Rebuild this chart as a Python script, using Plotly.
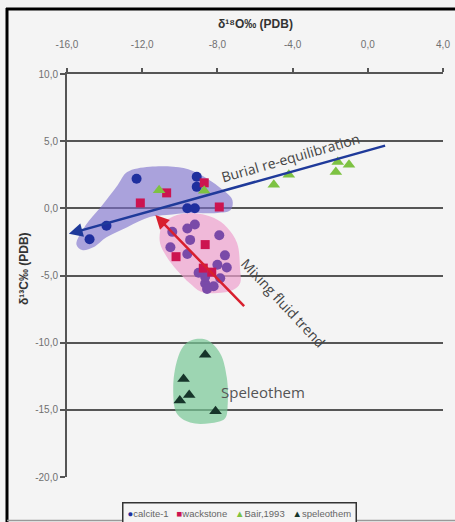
import plotly.graph_objects as go

# ---------------- data ----------------
calcite_x = [-12.3, -9.1, -9.1, -9.6, -9.2, -13.9, -14.8]
calcite_y = [2.2, 2.35, 1.6, 0.0, 0.0, -1.3, -2.3]

calcite_mix_x = [-10.4, -9.6, -9.2, -7.9, -10.5, -9.6, -9.45, -7.6, -8.0, -7.5, -8.65, -8.2, -7.85, -8.65, -8.55, -9.0]
calcite_mix_y = [-1.75, -1.5, -1.2, -2.0, -2.9, -3.4, -2.35, -3.5, -4.2, -4.4, -5.6, -5.8, -5.2, -5.1, -6.0, -4.8]

wack_x = [-12.1, -10.7, -8.7, -7.9, -8.65, -10.2, -8.75, -8.3]
wack_y = [0.4, 1.15, 1.9, 0.1, -2.7, -3.6, -4.45, -4.75]

bair_x = [-11.1, -8.7, -5.0, -4.2, -1.7, -1.6, -1.0]
bair_y = [1.35, 1.3, 1.75, 2.5, 2.7, 3.45, 3.25]

spel_x = [-8.65, -9.8, -10.0, -9.5, -8.1]
spel_y = [-10.9, -12.7, -14.3, -13.9, -15.1]

# outlines of the shaded fields
burial_field_x = [-15.5, -15.0, -14.2, -13.3, -12.8, -11.6, -9.8, -8.9, -7.7, -7.2, -7.3, -8.0, -9.45, -10.7, -11.6, -12.8, -13.9, -14.6, -15.2, -15.5]
burial_field_y = [-2.7, -1.24, 0.1, 1.74, 2.7, 3.1, 3.0, 2.5, 1.36, 0.6, -0.13, -0.35, -0.35, -0.5, -0.65, -1.4, -2.15, -2.9, -3.1, -2.7]
mix_field_x = [-11.05, -10.9, -10.15, -9.3, -8.2, -7.5, -6.95, -6.8, -6.8, -7.2, -8.0, -8.9, -9.45, -10.15, -10.7, -11.05, -11.05]
mix_field_y = [-1.75, -1.1, -0.5, -0.35, -0.7, -1.4, -2.6, -4.4, -5.6, -6.1, -6.3, -6.2, -5.6, -4.6, -3.6, -2.6, -1.75]
spel_field_x = [-9.35, -8.55, -7.85, -7.5, -7.45, -7.6, -8.4, -9.45, -10.15, -10.35, -10.15, -9.8, -9.35]
spel_field_y = [-9.8, -9.8, -10.8, -12.6, -14.55, -15.65, -16.0, -15.95, -15.3, -13.35, -11.35, -10.25, -9.8]

# trend arrows: [head, tail]
burial_trend_x = [-15.9, 1.0]
burial_trend_y = [-1.9, 4.7]
mixing_trend_x = [-11.3, -6.5]
mixing_trend_y = [-0.5, -7.4]

x_ticks = [-16, -12, -8, -4, 0, 4]
x_tick_labels = ["-16,0", "-12,0", "-8,0", "-4,0", "0,0", "4,0"]
y_ticks = [10, 5, 0, -5, -10, -15, -20]
y_tick_labels = ["10,0", "5,0", "0,0", "-5,0", "-10,0", "-15,0", "-20,0"]

series_names = ["calcite-1", "wackstone", "Bair,1993", "speleothem"]
series_colors = ["#1f2f9e", "#cc1450", "#7dc242", "#17352a"]
series_glyphs = ["●", "■", "▲", "▲"]

# ---------------- figure ----------------
W, H = 455, 522
L, R, T, B = 67, 12, 74, 45
PW, PH = W - L - R, H - T - B

def px_x(p):  # pixel -> paper
    return (p - L) / PW

def px_y(p):
    return (H - B - p) / PH

fig = go.Figure()

def field(xs, ys, color):
    fig.add_trace(go.Scatter(x=xs, y=ys, mode="lines", fill="toself",
                             line=dict(width=0, shape="spline", smoothing=1.0),
                             fillcolor=color, showlegend=False, hoverinfo="skip"))

field(burial_field_x, burial_field_y, "rgba(125,112,205,0.62)")
field(mix_field_x, mix_field_y, "rgba(238,160,205,0.7)")
field(spel_field_x, spel_field_y, "rgba(120,200,150,0.7)")

fig.add_trace(go.Scatter(x=calcite_mix_x, y=calcite_mix_y, mode="markers",
                         marker=dict(symbol="circle", size=10, color="#7a4aa8"),
                         showlegend=False))
fig.add_trace(go.Scatter(x=calcite_x, y=calcite_y, mode="markers", name=series_names[0],
                         marker=dict(symbol="circle", size=10, color=series_colors[0]), showlegend=False))
fig.add_trace(go.Scatter(x=wack_x, y=wack_y, mode="markers", name=series_names[1],
                         marker=dict(symbol="square", size=9, color=series_colors[1]), showlegend=False))
fig.add_trace(go.Scatter(x=bair_x, y=bair_y, mode="markers", name=series_names[2],
                         marker=dict(symbol="triangle-up", size=11, color=series_colors[2]), showlegend=False))
fig.add_trace(go.Scatter(x=spel_x, y=spel_y, mode="markers", name=series_names[3],
                         marker=dict(symbol="triangle-up", size=11, color=series_colors[3]), showlegend=False))

# trend arrows
fig.add_annotation(x=burial_trend_x[0], y=burial_trend_y[0], ax=burial_trend_x[1], ay=burial_trend_y[1],
                   xref="x", yref="y", axref="x", ayref="y", text="", showarrow=True,
                   arrowhead=2, arrowsize=1.1, arrowwidth=2.5, arrowcolor="#1f3a9a")
fig.add_annotation(x=mixing_trend_x[0], y=mixing_trend_y[0], ax=mixing_trend_x[1], ay=mixing_trend_y[1],
                   xref="x", yref="y", axref="x", ayref="y", text="", showarrow=True,
                   arrowhead=2, arrowsize=1.1, arrowwidth=2.5, arrowcolor="#d8202e")

label_font = dict(family="Open Sans, sans-serif", size=14, color="#444444")
fig.add_annotation(x=-4.1, y=3.75, text="Burial re-equilibration", showarrow=False,
                   textangle=-16, font=label_font)
fig.add_annotation(x=-4.5, y=-7.0, text="Mixing fluid trend", showarrow=False,
                   textangle=47, font=label_font)
fig.add_annotation(x=-5.6, y=-13.7, text="Speleothem", showarrow=False,
                   font=dict(family="Open Sans, sans-serif", size=15, color="#555555"))

# axis titles
title_font = dict(family="Liberation Sans, Arial", size=12, color="#333333")
fig.add_annotation(x=px_x(255), y=px_y(24), xref="paper", yref="paper", text="<b>δ¹⁸O‰ (PDB)</b>",
                   showarrow=False, xanchor="center", yanchor="middle", font=title_font)
fig.add_annotation(x=px_x(24), y=px_y(269), xref="paper", yref="paper", text="<b>δ¹³C‰ (PDB)</b>",
                   showarrow=False, xanchor="center", yanchor="middle", textangle=-90, font=title_font)

# compact legend box (as in the reference)
legend_text = "&nbsp;&nbsp;&nbsp;".join(
    f"<span style='color:{c}'>{g}</span>{n}" for n, c, g in zip(series_names, series_colors, series_glyphs))
fig.add_annotation(x=px_x(239), y=px_y(502), xref="paper", yref="paper", text=legend_text,
                   showarrow=False, xanchor="center", yanchor="top",
                   font=dict(family="Liberation Sans, Arial", size=9.5, color="#666666"),
                   bordercolor="#333333", borderwidth=1.5, borderpad=4, bgcolor="#f4f4f4")

fig.update_layout(
    width=W, height=H,
    margin=dict(l=L, r=R, t=T, b=B, autoexpand=False),
    paper_bgcolor="#f4f4f4", plot_bgcolor="#f4f4f4",
    font=dict(family="Liberation Sans, Arial", size=10, color="#707070"),
    showlegend=False,
    xaxis=dict(range=[-16, 4], side="top", tickvals=x_ticks, ticktext=x_tick_labels,
               showgrid=False, zeroline=False, showline=True, linecolor="#555555", linewidth=2,
               ticks="outside", ticklen=4, tickcolor="#555555", tickwidth=1.5,
               ticklabelstandoff=16, automargin=False),
    yaxis=dict(range=[-20, 10], tickvals=y_ticks, ticktext=y_tick_labels,
               showgrid=True, gridcolor="#555555", gridwidth=2, zeroline=False,
               showline=True, linecolor="#555555", linewidth=2,
               ticks="outside", ticklen=5, tickcolor="#555555", tickwidth=1.5,
               automargin=False),
)

# outer frame: black on top and left, thin grey rule at the bottom
fig.add_shape(type="line", xref="paper", yref="paper",
              x0=px_x(6), x1=px_x(456), y0=px_y(9), y1=px_y(9),
              line=dict(color="#000000", width=3), layer="above")
fig.add_shape(type="line", xref="paper", yref="paper",
              x0=px_x(7), x1=px_x(7), y0=px_y(8), y1=px_y(523),
              line=dict(color="#000000", width=3), layer="above")
fig.add_shape(type="line", xref="paper", yref="paper",
              x0=px_x(7), x1=px_x(456), y0=px_y(520.5), y1=px_y(520.5),
              line=dict(color="#999999", width=1.5), layer="above")

fig.write_html("out.html", config={"displayModeBar": False},
               post_script="document.body.style.margin='0';document.body.style.padding='0';"
                           "document.body.style.background='#f4f4f4';")
